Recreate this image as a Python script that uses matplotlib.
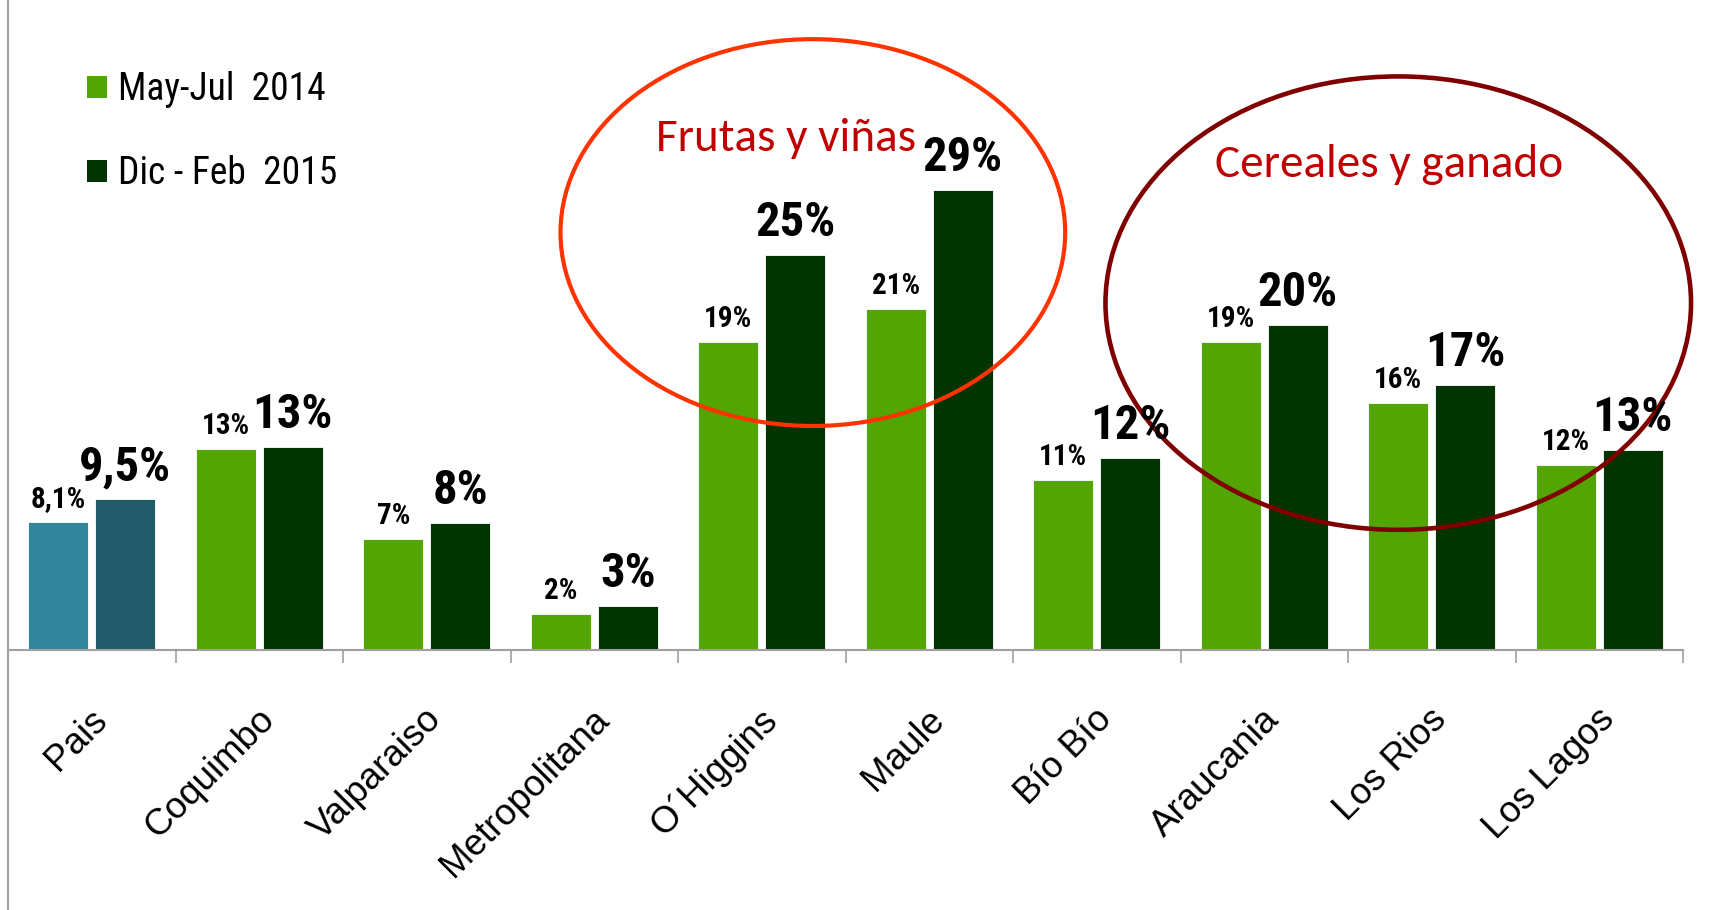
import matplotlib
matplotlib.use("Agg")
import matplotlib.pyplot as plt
from matplotlib import font_manager
from matplotlib.patches import Ellipse, Patch
from matplotlib.lines import Line2D


def pick_font(names):
    for n in names:
        try:
            font_manager.findfont(n, fallback_to_default=False)
            return n
        except Exception:
            pass
    return "DejaVu Sans"


NARROW = pick_font(["Arial Narrow", "Liberation Sans Narrow", "Roboto Condensed", "PT Sans Narrow"])
ARIAL = pick_font(["Arial", "Liberation Sans"])
CALIBRI = pick_font(["Calibri", "Carlito", "Lato"])

# data
regions = ["Pais", "Coquimbo", "Valparaiso", "Metropolitana", "O\u00b4Higgins",
           "Maule", "B\u00edo B\u00edo", "Araucania", "Los Rios", "Los Lagos"]
may_jul_2014 = [8.1, 12.7, 7.0, 2.3, 19.4, 21.5, 10.7, 19.4, 15.6, 11.7]
dic_feb_2015 = [9.5, 12.8, 8.0, 2.8, 24.9, 29.0, 12.1, 20.5, 16.7, 12.6]
labels_2014 = ["8,1%", "13%", "7%", "2%", "19%", "21%", "11%", "19%", "16%", "12%"]
labels_2015 = ["9,5%", "13%", "8%", "3%", "25%", "29%", "12%", "20%", "17%", "13%"]
series_names = ["May-Jul  2014", "Dic - Feb  2015"]

light_green = "#52A502"
dark_green = "#023402"
teal = "#31869B"
dark_teal = "#215A69"
grey = "#A0A0A0"

W, H = 1713, 910
fig = plt.figure(figsize=(W / 100, H / 100), dpi=100)
ax = fig.add_axes([8 / W, (H - 650) / H, (1683 - 8) / W, 650 / H])

x = list(range(len(regions)))
bw = 0.36
c1 = [teal] + [light_green] * (len(regions) - 1)
c2 = [dark_teal] + [dark_green] * (len(regions) - 1)
b1 = ax.bar([i - 0.2 for i in x], may_jul_2014, bw, color=c1, edgecolor="white", linewidth=0.6)
b2 = ax.bar([i + 0.2 for i in x], dic_feb_2015, bw, color=c2, edgecolor="white", linewidth=0.6)

# value labels: small for 2014, big for 2015
for rect, lab in zip(b1, labels_2014):
    ax.annotate(lab, (rect.get_x() + rect.get_width() / 2, rect.get_height()),
                xytext=(0, 10.8), textcoords="offset points", ha="center", va="baseline",
                fontsize=21, fontweight="bold", family=NARROW)
for rect, lab in zip(b2, labels_2015):
    ax.annotate(lab, (rect.get_x() + rect.get_width() / 2, rect.get_height()),
                xytext=(0, 13.7), textcoords="offset points", ha="center", va="baseline",
                fontsize=35, fontweight="bold", family=NARROW)

ax.set_xlim(-0.5, len(regions) - 0.5)
ax.set_ylim(0, 41)
for s in ["top", "right", "left"]:
    ax.spines[s].set_visible(False)
ax.spines["bottom"].set_color(grey)
ax.spines["bottom"].set_linewidth(1.5)
ax.set_yticks([])
ax.set_xticks([])
ax.set_xticks([i + 0.5 for i in x], minor=True)
ax.tick_params(axis="x", which="minor", direction="out", length=9.5, width=1.2, color=grey,
               labelbottom=False)

for i, name in zip(x, regions):
    ax.text(i - 0.015, -0.08, name, transform=ax.get_xaxis_transform(), rotation=45,
            rotation_mode="anchor", ha="right", va="top", fontsize=26.5, family=ARIAL,
            clip_on=False)

# left border line across whole figure
fig.add_artist(Line2D([8 / W, 8 / W], [0, 1], color=grey, lw=1.5))

# highlight ellipses
ax.add_patch(Ellipse((4.305, 26.33), 3.013, 24.4, fill=False, edgecolor="#FF3300", lw=3, clip_on=False))
ax.add_patch(Ellipse((7.80, 21.88), 3.496, 28.6, fill=False, edgecolor="#800000", lw=3.3, clip_on=False))
ax.text(4.145, 31.48, "Frutas y vi\u00f1as", color="#C00000", fontsize=34, family=CALIBRI,
        ha="center", va="baseline")
ax.text(7.745, 29.84, "Cereales y ganado", color="#C00000", fontsize=34, family=CALIBRI,
        ha="center", va="baseline")

handles = [Patch(facecolor=light_green), Patch(facecolor=dark_green)]
ax.legend(handles, series_names, loc="upper left", bbox_to_anchor=(87 / W, 1 - 71 / H),
          bbox_transform=fig.transFigure, frameon=False, prop={"family": NARROW, "size": 27},
          handlelength=0.52, handleheight=0.52, handletextpad=0.3, labelspacing=1.25,
          borderpad=0, borderaxespad=0)

fig.savefig("out.png", dpi=100)
